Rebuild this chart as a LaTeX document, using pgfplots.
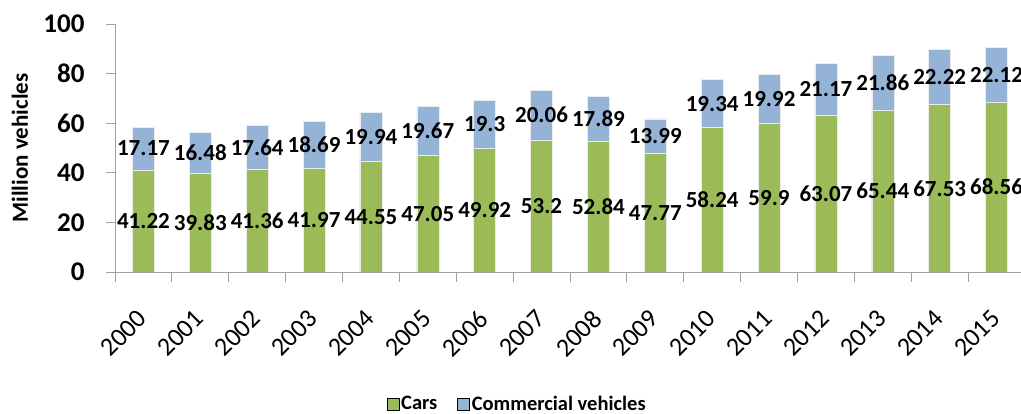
\documentclass[border=0pt]{standalone}
\usepackage{pgfplots}
\pgfplotsset{compat=1.18}
\usepackage{fontspec}
\setmainfont{Carlito}
\definecolor{carg}{HTML}{9BBB59}
\definecolor{comb}{HTML}{95B3D7}
\definecolor{axg}{HTML}{A0A0A0}
\begin{document}
\begin{tikzpicture}
\begin{axis}[
  scale only axis, width=906pt, height=248pt,
  xmin=-0.5, xmax=15.43, ymin=0, ymax=100,
  axis lines*=left,
  axis line style={draw=axg, line width=0.8pt},
  tick align=outside,
  ytick={0,20,...,100},
  xtick={0,...,15},
  xticklabels={2000,2001,2002,2003,2004,2005,2006,2007,2008,2009,2010,2011,2012,2013,2014,2015},
  minor xtick={-0.5,0.5,...,14.5},
  major tick length=9pt,
  minor tick length=10pt,
  x tick style={draw=none},
  minor x tick style={draw=axg, line width=0.8pt},
  y tick style={draw=axg, line width=0.8pt},
  /pgf/number format/assume math mode=true,
  yticklabel style={font=\bfseries\fontsize{27}{27}\selectfont, anchor=east, xshift=-18pt},
  xticklabel style={font=\fontsize{26}{26}\selectfont, rotate=45, anchor=east, xshift=-21pt, yshift=-23pt},
  ylabel={Million vehicles},
  ylabel style={font=\bfseries\fontsize{23}{23}\selectfont, at={(axis description cs:-0.105,0.5)}, anchor=center},
  legend style={draw=none, legend columns=2, at={(axis description cs:0.444,-0.532)}, anchor=center,
    font=\bfseries\fontsize{20.5}{20.5}\selectfont,
    /tikz/every even column/.append style={column sep=18pt}},
  legend image code/.code={\fill[#1] (0pt,-6pt) rectangle (12pt,6pt);},
]
\addlegendimage{fill=carg}
\addlegendentry{Cars}
\addlegendimage{fill=comb}
\addlegendentry{Commercial vehicles}
% totals (cars + commercial vehicles)
\addplot[ybar, bar width=22pt, bar shift=0pt, fill=comb, draw=white!85!gray, forget plot] coordinates {
(0,58.39) (1,56.31) (2,59.00) (3,60.66) (4,64.49) (5,66.72) (6,69.22) (7,73.26)
(8,70.73) (9,61.76) (10,77.58) (11,79.82) (12,84.24) (13,87.30) (14,89.75) (15,90.68)};
% cars
\addplot[ybar, bar width=22pt, bar shift=0pt, fill=carg, draw=white!85!gray, forget plot] coordinates {
(0,41.22) (1,39.83) (2,41.36) (3,41.97) (4,44.55) (5,47.05) (6,49.92) (7,53.2)
(8,52.84) (9,47.77) (10,58.24) (11,59.9) (12,63.07) (13,65.44) (14,67.53) (15,68.56)};
% labels for cars
\addplot[draw=none, mark=none, forget plot, nodes near coords, point meta=explicit symbolic,
  nodes near coords style={anchor=center, font=\bfseries\fontsize{23}{23}\selectfont}] coordinates {
(0,20.61)[41.22] (1,19.915)[39.83] (2,20.68)[41.36] (3,20.985)[41.97] (4,22.275)[44.55]
(5,23.525)[47.05] (6,24.96)[49.92] (7,26.6)[53.2] (8,26.42)[52.84] (9,23.885)[47.77]
(10,29.12)[58.24] (11,29.95)[59.9] (12,31.535)[63.07] (13,32.72)[65.44] (14,33.765)[67.53] (15,34.28)[68.56]};
% labels for commercial vehicles
\addplot[draw=none, mark=none, forget plot, nodes near coords, point meta=explicit symbolic,
  nodes near coords style={anchor=center, font=\bfseries\fontsize{23}{23}\selectfont}] coordinates {
(0,49.805)[17.17] (1,48.07)[16.48] (2,50.18)[17.64] (3,51.315)[18.69] (4,54.52)[19.94]
(5,56.885)[19.67] (6,59.57)[19.3] (7,63.23)[20.06] (8,61.785)[17.89] (9,54.765)[13.99]
(10,67.91)[19.34] (11,69.86)[19.92] (12,73.655)[21.17] (13,76.37)[21.86] (14,78.64)[22.22] (15,79.62)[22.12]};
\end{axis}
\pgfresetboundingbox
\useasboundingbox (-115pt,-142pt) rectangle (906pt,272pt);
\end{tikzpicture}
\end{document}
